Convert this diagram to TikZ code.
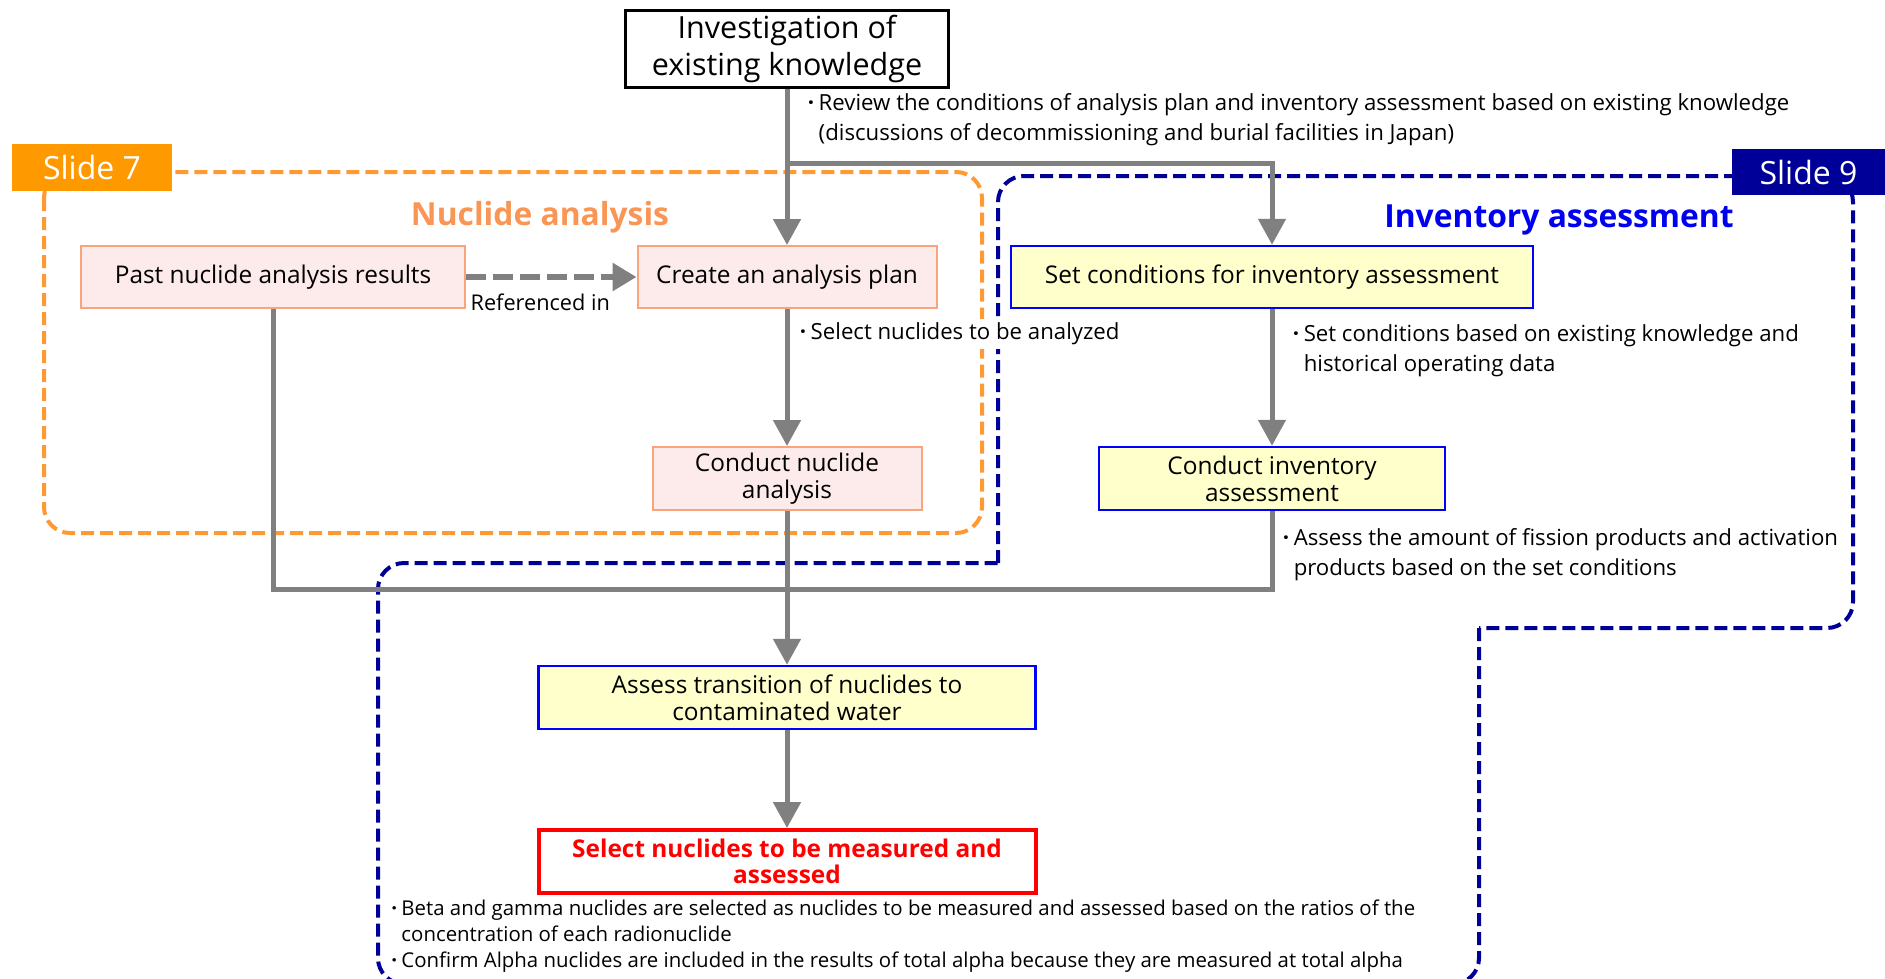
\documentclass[tikz,border=0pt]{standalone}
\usepackage{fontspec}
\setmainfont{Open Sans}
\usetikzlibrary{positioning, arrows.meta}

\definecolor{pinkfill}{RGB}{253,234,234}
\definecolor{pinkline}{RGB}{248,165,125}
\definecolor{yellowfill}{RGB}{255,255,204}
\definecolor{slideorange}{RGB}{255,153,0}
\definecolor{dashorange}{RGB}{255,153,51}
\definecolor{titleorange}{RGB}{250,150,85}
\definecolor{titleblue}{RGB}{0,0,240}
\definecolor{navy}{RGB}{0,0,153}
\definecolor{flowgray}{RGB}{128,128,128}

\newcommand{\bul}{\makebox[0.7em][c]{\bfseries ·}}
\newcommand{\ind}{\hspace*{0.7em}}

\begin{document}
\begin{tikzpicture}
    [
        x=1pt, y=-1pt,
        node distance=201.5pt and 485pt, on grid,
        black_node/.style={rectangle, draw=black, line width=2.5pt, fill=white, align=center, inner sep=0pt, minimum width=323pt, minimum height=77pt, font=\fontsize{30.5}{37}\selectfont},
        pink_node/.style={rectangle, draw=pinkline, line width=2pt, fill=pinkfill, align=center, inner sep=0pt, minimum height=62pt, font=\fontsize{24.4}{27}\selectfont},
        yellow_node/.style={rectangle, draw=blue, line width=2.5pt, fill=yellowfill, align=center, inner sep=0pt, minimum height=62pt, font=\fontsize{24.4}{27}\selectfont},
        red_node/.style={rectangle, draw=red, line width=4pt, fill=white, text=red, align=center, inner sep=0pt, minimum width=497pt, minimum height=63pt, font=\fontsize{24.4}{26}\selectfont\bfseries},
        note_text/.style={anchor=west, align=left, inner sep=0pt, font=\fontsize{22.2}{30}\selectfont},
        title_text/.style={inner sep=0pt, font=\fontsize{31.8}{33}\selectfont\bfseries},
        slide_label/.style={rectangle, text=white, inner sep=0pt, font=\fontsize{32}{34}\selectfont},
        flow/.style={draw=flowgray, line width=5pt, -{Triangle[width=27pt, length=26pt]}},
        link/.style={draw=flowgray, line width=5pt},
        ref_flow/.style={draw=flowgray, line width=6pt, dash pattern=on 20pt off 7pt, -{Triangle[width=27pt, length=24pt]}},
        orange_frame/.style={draw=dashorange, line width=4pt, dash pattern=on 13pt off 6pt, rounded corners=26pt},
        blue_frame/.style={draw=navy, line width=4pt, dash pattern=on 13pt off 6pt, rounded corners=26pt},
    ]
        \useasboundingbox (0,0) rectangle (1885,978);
        \clip (0,0) rectangle (1885,978);

        % dashed frames of the two slides
        \draw[orange_frame] (44,172) rectangle (982,533);
        \draw[blue_frame] (998,563) -- (998,176) -- (1853,176) -- (1853,628) -- (1479,628);
        \draw[blue_frame] (1479,628) -- (1479,984) -- (378,984) -- (378,563) -- (998,563);
        \node[slide_label, fill=slideorange, minimum width=160pt, minimum height=47pt] (slide7) at (92,167.5) {Slide 7};
        \node[slide_label, fill=navy, minimum width=153pt, minimum height=46pt] (slide9) at (1808.5,172) {Slide 9};
        \node[title_text, text=titleorange] (na_title) at (540,217) {Nuclide analysis};
        \node[title_text, text=titleblue] (ia_title) at (1559,220) {Inventory assessment};

        % flow boxes
        \node[black_node] (invest) at (787,49) {Investigation of\\existing knowledge};
        \node[pink_node, minimum width=299pt] (plan) [below = 228pt of invest] {Create an analysis plan};
        \node[pink_node, minimum width=384pt] (past) [left = 514pt of plan] {Past nuclide analysis results};
        \node[pink_node, minimum width=269pt, minimum height=63pt] (cna) [below = of plan] {Conduct nuclide\\analysis};
        \node[yellow_node, minimum width=522pt] (setc) [right = of plan] {Set conditions for inventory assessment};
        \node[yellow_node, minimum width=346pt, minimum height=63pt] (cia) [below = of setc] {Conduct inventory\\assessment};
        \node[yellow_node, minimum width=497pt, minimum height=63pt] (trans) [below = 219pt of cna] {Assess transition of nuclides to\\contaminated water};
        \node[red_node] (sel) [below = 164pt of trans] {Select nuclides to be measured and\\assessed};
        \coordinate (split) at (787,163);
        \coordinate (join) at (787,589);

        % notes
        \node[note_text] (review_note) at (803,120) {\bul Review the conditions of analysis plan and inventory assessment based on existing knowledge\\\ind(discussions of decommissioning and burial facilities in Japan)};
        \node[note_text, fill=white, inner ysep=4pt] (select_note) at (795,334) {\bul Select nuclides to be analyzed};
        \node[note_text] (setc_note) at (1288,351) {\bul Set conditions based on existing knowledge and\\\ind historical operating data};
        \node[note_text] (cia_note) at (1278,555) {\bul Assess the amount of fission products and activation\\\ind products based on the set conditions};
        \node[note_text, font=\fontsize{20.4}{26}\selectfont] (sel_note) at (387,936) {\bul Beta and gamma nuclides are selected as nuclides to be measured and assessed based on the ratios of the\\\ind concentration of each radionuclide\\\bul Confirm Alpha nuclides are included in the results of total alpha because they are measured at total alpha};

        % connectors
        \draw[flow] (invest) -- (plan);
        \draw[flow] (split) -| (setc);
        \draw[ref_flow] (past) -- (plan) node[midway, below = 14pt, xshift=-11pt, inner sep=0pt, font=\fontsize{21.7}{24}\selectfont] (ref_label) {Referenced in};
        \draw[flow] (plan) -- (cna);
        \draw[flow] (setc) -- (cia);
        \draw[link] (past) |- (cia.south |- join) -- (cia);
        \draw[flow] (cna) -- (trans);
        \draw[flow] (trans) -- (sel);
    \end{tikzpicture}
\end{document}
